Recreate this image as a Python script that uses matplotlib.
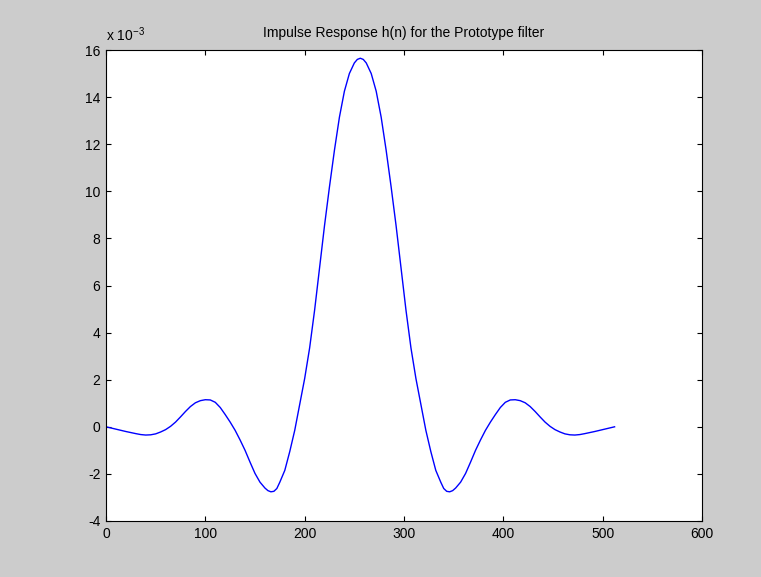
import matplotlib
matplotlib.use("Agg")
import matplotlib.pyplot as plt

plt.rcParams['font.family'] = ['Liberation Sans', 'DejaVu Sans']
plt.rcParams['axes.unicode_minus'] = False
plt.rcParams['mathtext.default'] = 'regular'

# sample index n and h(n) in units of 1e-3
n = [0, 10, 20, 30, 35, 40, 45, 50, 55, 60, 65, 70, 75, 80, 85, 90, 95, 100,
     105, 110, 115, 120, 125, 130, 135, 140, 145, 150, 155, 160, 163, 166,
     169, 172, 175, 180, 185, 190, 195, 200, 205, 210, 215, 220, 225, 230,
     235, 240, 245, 250, 253, 256,
     259, 262, 267, 272, 277, 282, 287, 292, 297, 302, 307, 312, 317, 322,
     327, 332, 337, 340, 343, 346, 349, 352, 357, 362, 367, 372, 377, 382,
     387, 392, 397, 402, 407, 412, 417, 422, 427, 432, 437, 442, 447, 452,
     457, 462, 467, 472, 477, 482, 492, 502, 512]
h = [0.00, -0.10, -0.20, -0.29, -0.33, -0.35, -0.34, -0.30, -0.22, -0.12,
     0.02, 0.20, 0.42, 0.65, 0.86, 1.02, 1.11, 1.15, 1.14, 1.04, 0.82, 0.52,
     0.20, -0.15, -0.56, -1.00, -1.50, -1.98, -2.35, -2.60, -2.71, -2.76,
     -2.74, -2.62, -2.35, -1.85, -1.05, -0.15, 0.95, 2.05, 3.35, 4.95, 6.75,
     8.55, 10.20, 11.75, 13.15, 14.25, 15.00, 15.45, 15.60, 15.65,
     15.60, 15.45, 15.00, 14.25, 13.15, 11.75, 10.20, 8.55, 6.75, 4.95, 3.35,
     2.05, 0.95, -0.15, -1.05, -1.85, -2.35, -2.62, -2.74, -2.76, -2.71,
     -2.60, -2.35, -1.98, -1.50, -1.00, -0.56, -0.15, 0.20, 0.52, 0.82, 1.04,
     1.14, 1.15, 1.11, 1.02, 0.86, 0.65, 0.42, 0.20, 0.02, -0.12, -0.22,
     -0.30, -0.34, -0.35, -0.33, -0.29, -0.20, -0.10, 0.00]

xticks = [0, 100, 200, 300, 400, 500, 600]
yticks = [-4, -2, 0, 2, 4, 6, 8, 10, 12, 14, 16]

fig = plt.figure(figsize=(7.61, 5.77), dpi=100, facecolor='#cccccc')
ax = fig.add_axes([106 / 761, 56 / 577, 596 / 761, 471 / 577])
ax.set_facecolor('white')

ax.plot(n, h, color='#0000ff', lw=1.0)

ax.set_xlim(0, 600)
ax.set_ylim(-4, 16)
ax.set_xticks(xticks)
ax.set_yticks(yticks)
ax.tick_params(direction='in', length=3.6, width=0.8, top=True, right=True,
               labelsize=10, colors='black', pad=4)
for s in ax.spines.values():
    s.set_linewidth(0.8)
    s.set_color('black')

ax.set_title('Impulse Response h(n) for the Prototype filter', fontsize=10, pad=9)
ax.text(0.0, 1.012, 'x 10$^{-3}$', transform=ax.transAxes, fontsize=10,
        ha='left', va='bottom')

fig.savefig('out.png', dpi=100, facecolor=fig.get_facecolor())
